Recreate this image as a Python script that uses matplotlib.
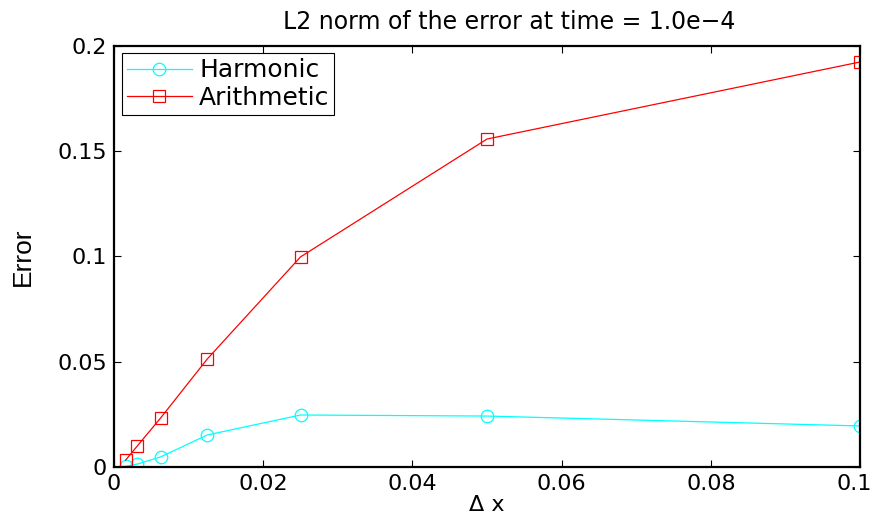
import matplotlib
matplotlib.use('Agg')
import matplotlib.pyplot as plt
import matplotlib.transforms as mtransforms

dx = [0.1, 0.05, 0.025, 0.0125, 0.00625, 0.003125, 0.0015625]
harmonic = [0.0195, 0.0242, 0.0247, 0.0152, 0.0048, 0.0014, 0.0003]
arithmetic = [0.1924, 0.1558, 0.0998, 0.0513, 0.0233, 0.0100, 0.0033]
xticks = [0, 0.02, 0.04, 0.06, 0.08, 0.1]
xticklabels = ['0', '0.02', '0.04', '0.06', '0.08', '0.1']
yticks = [0, 0.05, 0.1, 0.15, 0.2]
yticklabels = ['0', '0.05', '0.1', '0.15', '0.2']

plt.rcParams['font.family'] = ['DejaVu Sans']

fig = plt.figure(figsize=(8.75, 5.19), dpi=100)
ax = fig.add_axes([0.1303, 0.1002, 0.8526, 0.8112])

ax.plot(dx, harmonic, color='cyan', lw=0.9, marker='o', ms=9, mfc='none',
        mec='cyan', mew=0.9, label='Harmonic')
ax.plot(dx, arithmetic, color='red', lw=0.9, marker='s', ms=8, mfc='none',
        mec='red', mew=0.9, label='Arithmetic')

ax.set_xlim(0, 0.1)
ax.set_ylim(0, 0.2)
ax.set_xticks(xticks)
ax.set_xticklabels(xticklabels)
ax.set_yticks(yticks)
ax.set_yticklabels(yticklabels)
ax.tick_params(direction='in', top=True, right=True, length=5, width=0.8,
               labelsize=16, pad=5)
for s in ax.spines.values():
    s.set_linewidth(1.6)

# last x label sits at the right edge, nudge it inside the figure
last = ax.get_xticklabels()[-1]
last.set_transform(last.get_transform() +
                   mtransforms.ScaledTranslation(-6 / 100, 0, fig.dpi_scale_trans))

ax.set_title('L2 norm of the error at time = 1.0e\u22124', fontsize=17, pad=12,
             x=0.53)
ax.set_xlabel('\u0394 x', fontsize=16, labelpad=1)
ax.set_ylabel('Error', fontsize=19, family=['Liberation Sans Narrow', 'Liberation Sans'],
              labelpad=16)

leg = ax.legend(loc='upper left', fontsize=18, fancybox=False, framealpha=1,
                edgecolor='black', borderaxespad=0.3, handlelength=2.6,
                borderpad=0.2, labelspacing=0.15, handletextpad=0.3)
leg.get_frame().set_linewidth(0.8)

fig.savefig('out.png', dpi=100)
